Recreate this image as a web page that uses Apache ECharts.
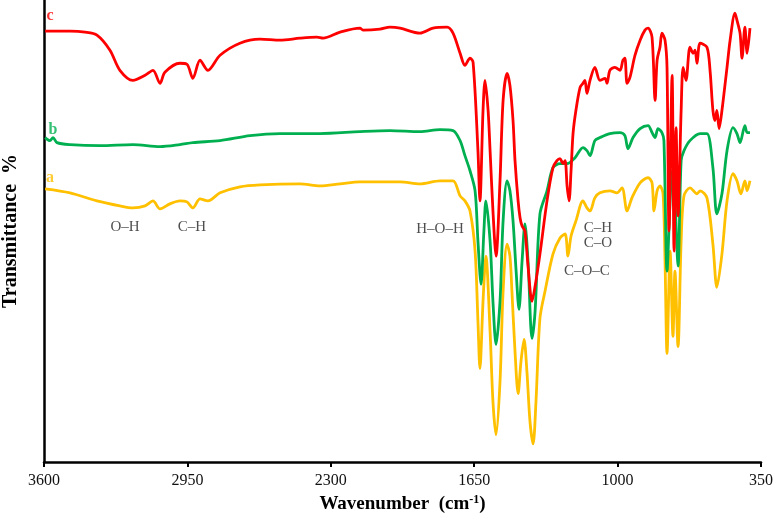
<!DOCTYPE html>
<html>
<head>
<meta charset="utf-8">
<script src="https://cdn.jsdelivr.net/npm/echarts@6/dist/echarts.min.js"></script>
<style>
  html, body { margin: 0; padding: 0; background: #fff; }
  #chart { width: 774px; height: 523px; }
</style>
</head>
<body>
<div id="chart"></div>
<script>
// wavenumber (cm-1), transmittance (arbitrary, stacked offsets)
const specA = [
  [3595, 272], [3482, 268], [3360, 260], [3256, 255], [3197, 253], [3142, 255], [3106, 260],
  [3074, 252], [3029, 257], [2984, 260], [2952, 259], [2925, 253], [2893, 262], [2857, 260],
  [2802, 268], [2712, 274], [2621, 276], [2440, 277], [2349, 275], [2258, 277], [2168, 279],
  [1986, 279], [1896, 277], [1805, 280], [1746, 280], [1714, 265], [1692, 260], [1669, 250],
  [1646, 210], [1633, 140], [1624, 93], [1610, 160], [1597, 205], [1578, 130], [1565, 60],
  [1551, 27], [1533, 80], [1519, 170], [1501, 217], [1488, 205], [1479, 170], [1465, 110],
  [1451, 68], [1438, 100], [1424, 122], [1411, 90], [1397, 40], [1383, 18], [1370, 60],
  [1352, 143], [1329, 170], [1293, 207], [1261, 223], [1238, 227], [1225, 205], [1211, 225],
  [1189, 240], [1157, 260], [1139, 253], [1125, 250], [1103, 263], [1080, 268], [1035, 270],
  [1003, 268], [980, 273], [957, 250], [935, 263], [898, 278], [862, 283], [844, 278],
  [835, 250], [821, 270], [808, 275], [794, 267], [785, 200], [776, 108], [762, 210],
  [749, 125], [740, 190], [726, 115], [712, 220], [699, 265], [672, 273], [640, 267],
  [626, 270], [595, 263], [568, 217], [550, 174], [527, 207], [504, 260], [477, 287],
  [459, 280], [441, 267], [423, 280], [413, 270], [400, 280]
];

const specB = [
  [3595, 323], [3573, 320], [3559, 323], [3541, 318], [3482, 316], [3346, 315], [3197, 316],
  [3074, 314], [2984, 316], [2925, 318], [2802, 320], [2666, 325], [2530, 327], [2349, 327],
  [2168, 329], [2032, 330], [1896, 329], [1805, 331], [1746, 330], [1714, 320], [1692, 305],
  [1669, 290], [1646, 270], [1633, 220], [1619, 177], [1606, 230], [1597, 260], [1578, 220],
  [1565, 160], [1551, 117], [1533, 160], [1519, 240], [1501, 280], [1488, 270], [1474, 240],
  [1460, 190], [1447, 152], [1433, 200], [1420, 237], [1406, 200], [1388, 123], [1374, 150],
  [1352, 247], [1320, 270], [1293, 293], [1261, 297], [1229, 297], [1193, 303], [1157, 313],
  [1139, 310], [1125, 305], [1103, 320], [1080, 323], [1035, 327], [989, 328], [967, 325],
  [953, 312], [930, 323], [898, 332], [862, 335], [844, 328], [830, 323], [817, 332],
  [799, 328], [790, 320], [776, 190], [762, 260], [753, 290], [740, 260], [726, 195],
  [712, 300], [699, 310], [672, 320], [626, 327], [595, 327], [568, 293], [550, 247],
  [527, 267], [504, 310], [477, 333], [459, 327], [445, 318], [423, 335], [413, 328], [400, 328]
];

const specC = [
  [3595, 429], [3482, 429], [3414, 428], [3360, 425], [3301, 410], [3256, 390], [3197, 380],
  [3142, 385], [3106, 390], [3074, 377], [3052, 388], [2984, 397], [2952, 396], [2925, 382],
  [2893, 400], [2857, 390], [2802, 405], [2712, 417], [2621, 421], [2530, 420], [2440, 422],
  [2363, 423], [2335, 422], [2258, 428], [2168, 432], [2154, 430], [2077, 431], [2032, 433],
  [1986, 432], [1896, 427], [1837, 432], [1773, 433], [1746, 427], [1714, 407], [1692, 395],
  [1669, 402], [1655, 398], [1633, 310], [1624, 260], [1610, 350], [1601, 380], [1587, 350],
  [1578, 310], [1565, 250], [1551, 205], [1533, 280], [1519, 360], [1501, 387], [1488, 375],
  [1474, 340], [1465, 300], [1451, 260], [1442, 243], [1433, 235], [1420, 230], [1406, 195],
  [1388, 160], [1374, 175], [1352, 207], [1320, 260], [1293, 293], [1275, 300], [1261, 302],
  [1247, 297], [1238, 300], [1229, 275], [1220, 260], [1211, 290], [1202, 327], [1189, 350],
  [1170, 373], [1157, 377], [1148, 380], [1139, 367], [1125, 380], [1103, 393], [1080, 380],
  [1057, 382], [1048, 377], [1035, 390], [1012, 393], [989, 390], [976, 400], [967, 402],
  [957, 377], [944, 383], [921, 405], [898, 420], [876, 430], [862, 432], [844, 423],
  [830, 360], [821, 400], [808, 413], [799, 427], [785, 420], [776, 393], [767, 230],
  [753, 385], [744, 210], [735, 333], [726, 245], [712, 350], [703, 393], [690, 380],
  [672, 413], [658, 407], [649, 410], [640, 397], [626, 417], [595, 413], [581, 390],
  [568, 350], [559, 340], [550, 350], [540, 332], [527, 350], [504, 393], [490, 420],
  [468, 447], [459, 440], [445, 427], [436, 402], [423, 433], [413, 407], [400, 432]
];

const seriesNames = ['a', 'b', 'c'];
const seriesColors = ['#ffc000', '#00b050', '#ff0000'];
const letterPos = [[3573, 283], [3559, 331], [3573, 444]];

const bandLabels = [
  [3233, 234, 'O–H'], [2929, 234, 'C–H'], [1805, 232, 'H–O–H'],
  [1089, 233, 'C–H'], [1089, 218, 'C–O'], [1139, 190, 'C–O–C']
];

const xStart = 3600;
const xSpan = 3250;

// x axis runs high -> low, so plot distance from 3600
const toX = w => xStart - w;

const chart = echarts.init(document.getElementById('chart'));
const serif = '"Liberation Serif", "Times New Roman", serif';

const lineSeries = [specA, specB, specC].map((spec, i) => ({
  name: seriesNames[i],
  type: 'line',
  data: spec.map(([w, t]) => [toX(w), t]),
  showSymbol: false,
  smooth: 0.3,
  lineStyle: { color: seriesColors[i], width: 2.8 },
  itemStyle: { color: seriesColors[i] },
  z: 2 + i
}));

const option = {
  backgroundColor: '#fff',
  animation: false,
  grid: { left: 44, right: 13, top: 0, bottom: 61, outerBoundsMode: 'none', containLabel: false },
  xAxis: {
    type: 'value',
    min: 0,
    max: xSpan,
    interval: 650,
    name: 'Wavenumber  (cm{sup|-1})',
    nameLocation: 'middle',
    nameGap: 32,
    nameTextStyle: {
      fontFamily: serif, fontSize: 19, fontWeight: 'bold', color: '#000',
      rich: { sup: { fontFamily: serif, fontSize: 12, fontWeight: 'bold', color: '#000', verticalAlign: 'top', padding: [0, 0, 9, 0] } }
    },
    axisLine: { lineStyle: { color: '#000', width: 2.5 } },
    axisTick: { show: true, length: 5, lineStyle: { color: '#000', width: 2 } },
    axisLabel: {
      formatter: v => String(xStart - v),
      fontFamily: serif, fontSize: 16, color: '#111', margin: 11
    },
    splitLine: { show: false }
  },
  yAxis: {
    type: 'value',
    min: 0,
    max: 460,
    name: 'Transmittance  %',
    nameLocation: 'middle',
    nameGap: 23,
    nameTextStyle: { fontFamily: serif, fontSize: 20, fontWeight: 'bold', color: '#000' },
    axisLine: { show: true, lineStyle: { color: '#000', width: 2.5 } },
    axisTick: { show: false },
    axisLabel: { show: false },
    splitLine: { show: false }
  },
  series: [
    ...lineSeries,
    {
      type: 'scatter',
      symbolSize: 0,
      silent: true,
      z: 10,
      data: letterPos.map(([w, t], i) => ({
        value: [toX(w), t],
        label: {
          show: true, position: 'inside', formatter: seriesNames[i],
          fontFamily: serif, fontSize: 16, fontWeight: 'bold', color: seriesColors[i]
        }
      }))
    },
    {
      type: 'scatter',
      symbolSize: 0,
      silent: true,
      z: 10,
      data: bandLabels.map(([w, t, txt]) => ({
        value: [toX(w), t],
        label: {
          show: true, position: 'inside', formatter: txt,
          fontFamily: serif, fontSize: 15, color: '#222'
        }
      }))
    }
  ]
};

chart.setOption(option);
</script>
</body>
</html>
